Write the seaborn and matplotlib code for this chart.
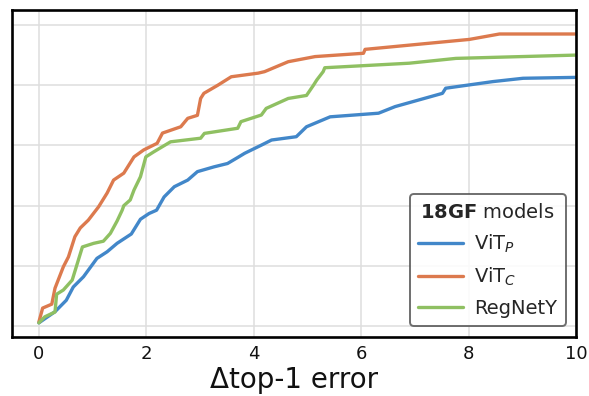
import numpy as np
import pandas as pd
import matplotlib
matplotlib.use("Agg")
import matplotlib.pyplot as plt
import seaborn as sns

# Cumulative share of models vs. increase in top-1 error (%)
vitp_err = [0.0, 0.30, 0.51, 0.64, 0.83, 1.08, 1.27, 1.455, 1.72, 1.89, 2.05, 2.19, 2.33,
            2.52, 2.77, 2.95, 3.26, 3.51, 3.70, 3.83, 4.14, 4.33, 4.79, 4.98, 5.42, 6.32,
            6.63, 7.51, 7.57, 8.45, 9.01, 10.0]
vitp_cdf = [0.011, 0.048, 0.086, 0.13, 0.164, 0.225, 0.247, 0.275, 0.306, 0.355, 0.374,
            0.385, 0.429, 0.463, 0.485, 0.513, 0.529, 0.54, 0.56, 0.574, 0.601, 0.618,
            0.629, 0.662, 0.695, 0.707, 0.729, 0.773, 0.79, 0.812, 0.823, 0.826]

vitc_err = [0.0, 0.07, 0.24, 0.30, 0.455, 0.55, 0.67, 0.77, 0.92, 1.11, 1.27, 1.39, 1.58,
            1.77, 1.95, 2.20, 2.30, 2.64, 2.77, 2.95, 3.01, 3.07, 3.33, 3.58, 4.08, 4.20,
            4.64, 5.14, 6.04, 6.07, 8.01, 8.57, 10.0]
vitc_cdf = [0.014, 0.06, 0.073, 0.126, 0.197, 0.23, 0.297, 0.326, 0.352, 0.396, 0.442,
            0.485, 0.508, 0.562, 0.585, 0.607, 0.641, 0.662, 0.69, 0.70, 0.756, 0.773,
            0.80, 0.828, 0.84, 0.845, 0.878, 0.895, 0.906, 0.919, 0.952, 0.970, 0.970]

regnet_err = [0.0, 0.11, 0.30, 0.33, 0.455, 0.62, 0.81, 1.02, 1.20, 1.33, 1.455, 1.55, 1.58,
              1.70, 1.77, 1.89, 1.99, 2.14, 2.45, 3.01, 3.08, 3.70, 3.76, 4.14, 4.23, 4.64,
              4.98, 5.11, 5.17, 5.29, 5.32, 6.89, 7.76, 10.0]
regnet_cdf = [0.011, 0.031, 0.047, 0.106, 0.12, 0.153, 0.263, 0.275, 0.282, 0.308, 0.349,
              0.385, 0.40, 0.419, 0.452, 0.496, 0.562, 0.579, 0.612, 0.624, 0.64, 0.657,
              0.679, 0.701, 0.723, 0.756, 0.766, 0.80, 0.817, 0.845, 0.858, 0.873, 0.889,
              0.90]

model_names = [r"ViT$_P$", r"ViT$_C$", "RegNetY"]
model_colors = ["#4287c9", "#dc7a4e", "#8fc062"]

frames = []
for name, xs, ys in zip(model_names,
                        [vitp_err, vitc_err, regnet_err],
                        [vitp_cdf, vitc_cdf, regnet_cdf]):
    frames.append(pd.DataFrame({"err": xs, "cdf": ys, "model": name}))
df = pd.concat(frames, ignore_index=True)

sns.set_theme(style="whitegrid")
plt.rcParams["font.family"] = ["DejaVu Sans"]

fig = plt.figure(figsize=(5.89, 3.96), dpi=100)
ax = fig.add_axes([0.0204, 0.149, 0.958, 0.826])

sns.lineplot(data=df, x="err", y="cdf", hue="model", hue_order=model_names,
             palette=dict(zip(model_names, model_colors)), estimator=None,
             sort=False, linewidth=2.4, ax=ax)

ax.set_xlim(-0.5, 10.0)
ax.set_ylim(-0.036, 1.05)
ax.set_xticks([0, 2, 4, 6, 8, 10])
ax.set_yticks([0, 0.2, 0.4, 0.6, 0.8, 1.0])
ax.set_yticklabels([])
ax.tick_params(axis="x", labelsize=13, length=0, pad=6, colors="#111111")
ax.tick_params(axis="y", length=0)
ax.set_xlabel("\u0394top-1 error", fontsize=20, labelpad=2, color="#111111")
ax.set_ylabel("")
ax.grid(True, color="#dedede", linewidth=1.1)
for sp in ax.spines.values():
    sp.set_color("#000000")
    sp.set_linewidth(1.9)

leg = ax.legend(title=r"$\bf{18GF}$ models", loc="lower right", fontsize=14,
                title_fontsize=14, handlelength=2.3, borderaxespad=0.55,
                fancybox=True, framealpha=0.85, labelspacing=0.55,
                handletextpad=0.55, borderpad=0.45)
leg.get_frame().set_edgecolor("#555555")
leg.get_frame().set_linewidth(1.4)
for line in leg.get_lines():
    line.set_linewidth(2.4)

fig.savefig("out.png", dpi=100)
